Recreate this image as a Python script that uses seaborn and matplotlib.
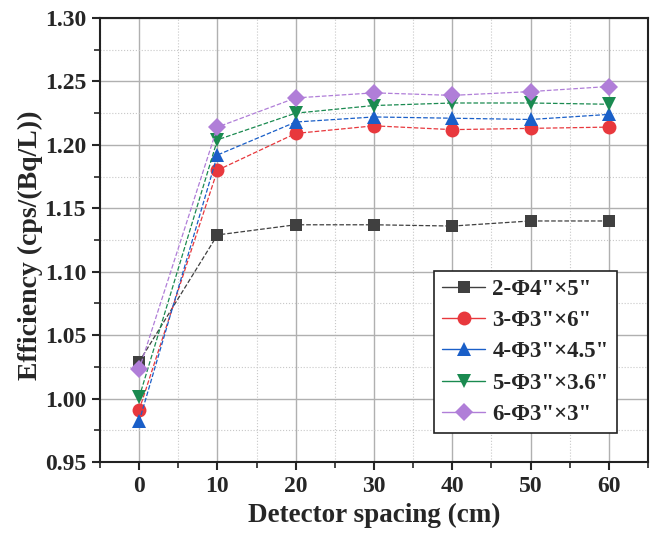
import numpy as np
import pandas as pd
import seaborn as sns
import matplotlib.pyplot as plt
from matplotlib.lines import Line2D
from matplotlib.ticker import MultipleLocator

spacing = [0, 10, 20, 30, 40, 50, 60]
labels = ['2-Φ4"×5"', '3-Φ3"×6"', '4-Φ3"×4.5"', '5-Φ3"×3.6"', '6-Φ3"×3"']
eff_2 = [1.029, 1.129, 1.137, 1.137, 1.136, 1.140, 1.140]
eff_3 = [0.991, 1.180, 1.209, 1.215, 1.212, 1.213, 1.214]
eff_4 = [0.982, 1.192, 1.218, 1.222, 1.221, 1.220, 1.224]
eff_5 = [1.001, 1.204, 1.225, 1.231, 1.233, 1.233, 1.232]
eff_6 = [1.023, 1.214, 1.237, 1.241, 1.239, 1.242, 1.246]
series = [eff_2, eff_3, eff_4, eff_5, eff_6]

colors = ['#404040', '#e8383d', '#1a5fc8', '#1a8a50', '#b07ed8']
markers = ['s', 'o', '^', 'v', 'D']
msizes = [9, 10, 10, 10, 9]

sns.set_theme(style='ticks')
plt.rcParams['font.family'] = ['Liberation Serif', 'DejaVu Serif']
plt.rcParams['font.weight'] = 'bold'

fig = plt.figure(figsize=(6.58, 5.34), dpi=100)
ax = fig.add_axes([100/658, 1-462/534, 548/658, 444/534])

for lab, vals, c, m, ms in zip(labels, series, colors, markers, msizes):
    df = pd.DataFrame({'x': spacing, 'y': vals})
    sns.lineplot(data=df, x='x', y='y', ax=ax, color=c, marker=m, markersize=ms,
                 markeredgewidth=0, linestyle='--', linewidth=0.9, legend=False, zorder=3)

ax.set_xlim(-5, 65)
ax.set_ylim(0.95, 1.30)
ax.xaxis.set_major_locator(MultipleLocator(10))
ax.xaxis.set_minor_locator(MultipleLocator(5))
ax.yaxis.set_major_locator(MultipleLocator(0.05))
ax.yaxis.set_minor_locator(MultipleLocator(0.025))
ax.yaxis.set_major_formatter(plt.FuncFormatter(lambda v, p: f'{v:.2f}'))
ax.set_xticks([0, 10, 20, 30, 40, 50, 60])

ax.grid(which='major', color='#b0b0b0', linewidth=1.0, linestyle='-', zorder=0)
ax.grid(which='minor', color='#c8c8c8', linewidth=0.8, linestyle=':', zorder=0)

ax.tick_params(axis='both', which='major', direction='out', length=6, width=1.5,
               labelsize=17, top=False, right=False, pad=4)
ax.tick_params(axis='both', which='minor', direction='out', length=4, width=1.2,
               top=False, right=False)
for lbl in ax.get_xticklabels() + ax.get_yticklabels():
    lbl.set_fontweight('bold')
for sp in ax.spines.values():
    sp.set_linewidth(1.5)
    sp.set_color('#222222')

ax.set_xlabel('Detector spacing (cm)', fontsize=19.5, fontweight='bold', labelpad=4)
ax.set_ylabel('Efficiency (cps/(Bq/L))', fontsize=20, fontweight='bold', labelpad=4)
ax.yaxis.set_label_coords(-57/548, (462-245)/444)

handles = [Line2D([0], [0], color=c, marker=m, markersize=ms, markeredgewidth=0,
                  linewidth=1.0, linestyle='-')
           for c, m, ms in zip(colors, markers, msizes)]
leg = ax.legend(handles, labels, loc='lower right', bbox_to_anchor=(0.943, 0.065),
                frameon=True, fancybox=False, edgecolor='#222222',
                handlelength=1.9, labelspacing=0.45, borderpad=0.35, handletextpad=0.3,
                borderaxespad=0, prop={'weight': 'bold', 'size': 16.5})
leg.get_frame().set_linewidth(1.2)
leg.get_frame().set_alpha(1)

fig.savefig('out.png', dpi=100)
